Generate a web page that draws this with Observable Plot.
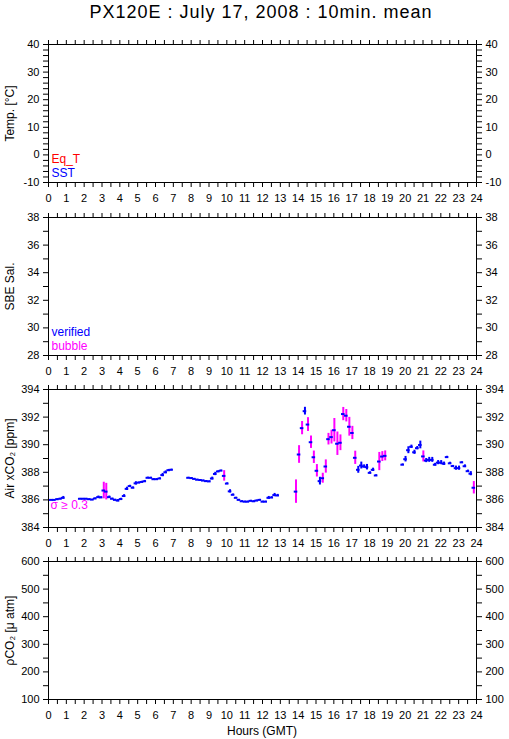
<!DOCTYPE html>
<html><head><meta charset="utf-8">
<script src="https://cdn.jsdelivr.net/npm/d3@7"></script>
<script src="https://cdn.jsdelivr.net/npm/@observablehq/plot@0.6"></script>
<style>
body{margin:0;background:#fff;font-family:"Liberation Sans",Arial,Helvetica,sans-serif;}
#root{position:relative;width:509px;height:739px;overflow:hidden;background:#fff;}
.abs{position:absolute;}
#title{top:3px;left:0;width:522px;text-align:center;font-size:18px;line-height:18px;letter-spacing:1px;color:#000;}
#xlab{top:725px;left:0;width:524px;text-align:center;font-size:12px;line-height:12px;color:#000;}
</style></head><body><div id="root">
<div id="title" class="abs">PX120E : July 17, 2008 : 10min. mean</div>
<div id="xlab" class="abs">Hours (GMT)</div>
</div>
<script>
// ---- tick labels ----
const hourLabels = [0,1,2,3,4,5,6,7,8,9,10,11,12,13,14,15,16,17,18,19,20,21,22,23,24];
const tempTicks = [-10,0,10,20,30,40];
const salTicks = [28,30,32,34,36,38];
const xco2Ticks = [384,386,388,390,392,394];
const pco2Ticks = [100,200,300,400,500,600];

// ---- panel titles & legends ----
const panelLabels = ["Temp. [°C]", "SBE Sal.", "Air xCO₂ [ppm]", "ρCO₂ [μ atm]"];
const tempLegend = ["Eq_T", "SST"];
const salLegend = ["verified", "bubble"];
const xco2Legend = ["σ ≥ 0.3"];
const sigmaLimit = 0.3;

// ---- Air xCO2 10-min means (hour GMT, ppm, std dev) ----
const hours = [
  0.00,0.17,0.33,0.50,0.67,0.83,
  1.78,1.95,2.12,2.29,2.46,2.62,2.80,2.95,3.10,3.24,3.41,3.58,3.74,3.90,4.07,4.24,4.40,4.57,4.74,4.90,5.07,5.24,5.40,5.57,5.74,5.90,6.07,6.24,6.40,6.57,6.74,6.90,
  7.85,8.02,8.18,8.35,8.52,8.68,8.85,9.02,9.18,9.35,9.52,9.68,9.85,10.02,10.18,10.35,10.52,10.68,10.85,11.02,11.18,11.35,11.52,11.68,11.85,12.02,12.18,12.35,12.52,12.68,12.85,
  13.88,14.05,14.22,14.38,14.55,14.72,14.88,15.05,15.22,15.38,15.55,15.70,15.87,16.03,16.20,16.37,16.53,16.70,16.87,17.04,17.20,17.37,17.54,17.70,17.86,18.03,18.20,18.37,18.55,18.72,18.88,
  19.86,20.02,20.18,20.35,20.52,20.68,20.85,21.02,21.18,21.35,21.52,21.68,21.85,22.02,22.18,22.35,22.52,22.68,22.85,23.02,23.18,23.35,23.52,23.68,23.85
];
const xco2 = [
  386.00,386.00,386.00,386.05,386.08,386.15,
  386.08,386.08,386.08,386.05,386.02,386.10,386.20,386.18,386.68,386.60,386.20,386.08,386.00,385.95,386.06,386.28,386.80,387.00,386.88,387.20,387.25,387.30,387.35,387.60,387.60,387.50,387.50,387.55,387.80,388.00,388.15,388.18,
  387.60,387.58,387.52,387.46,387.44,387.40,387.36,387.34,387.55,387.88,388.06,388.12,387.74,387.18,386.62,386.37,386.15,386.00,385.90,385.87,385.87,385.93,385.90,385.95,386.00,385.87,385.87,386.15,386.17,386.35,386.32,
  386.60,389.29,391.20,392.43,391.46,390.18,389.09,388.11,387.36,387.57,388.42,390.40,390.55,391.05,390.07,390.14,392.22,392.10,391.30,390.85,389.05,388.18,388.49,388.42,388.37,387.96,388.18,387.77,388.78,389.14,389.19,
  388.55,388.95,389.60,389.85,389.45,389.75,389.98,389.15,388.85,388.90,388.90,388.55,388.70,388.70,388.62,389.10,388.65,388.45,388.30,388.30,388.72,388.44,388.08,387.90,386.88
];
const sigma = [
  0.02,0.02,0.02,0.03,0.05,0.10,
  0.03,0.03,0.03,0.03,0.03,0.05,0.08,0.05,0.60,0.60,0.08,0.05,0.05,0.08,0.06,0.10,0.12,0.06,0.06,0.12,0.05,0.05,0.06,0.05,0.04,0.04,0.04,0.05,0.12,0.10,0.06,0.05,
  0.04,0.04,0.04,0.04,0.04,0.04,0.04,0.04,0.10,0.12,0.05,0.04,0.38,0.06,0.12,0.06,0.04,0.04,0.04,0.04,0.04,0.04,0.04,0.04,0.04,0.04,0.04,0.10,0.06,0.12,0.08,
  0.85,0.64,0.48,0.28,0.50,0.45,0.45,0.45,0.28,0.36,0.48,0.42,0.50,0.85,0.85,0.57,0.48,0.45,0.68,0.48,0.48,0.25,0.25,0.12,0.20,0.08,0.12,0.05,0.66,0.36,0.36,
  0.06,0.20,0.25,0.12,0.15,0.12,0.28,0.40,0.15,0.18,0.18,0.10,0.15,0.15,0.12,0.06,0.08,0.05,0.15,0.15,0.04,0.10,0.08,0.15,0.45
];

// ---- styles ----
const FONT = '"Liberation Sans", Arial, Helvetica, sans-serif';
const BLUE = "#0000ff", MAGENTA = "#ff00ff", RED = "#ff0000";
const W = 509, H = 138, mT = 10, mB = 26, mL = 48, mR = 33;
const halfHours = d3.range(0, 24.001, 0.5);
const halfTickWidth = 0.1; // hours, half-length of the horizontal mean marker

function legendMarks(items, colors, offsets, dx) {
  return items.map((t, i) => Plot.text([t], {
    text: d => d, frameAnchor: "bottom-left", textAnchor: "start", lineAnchor: "middle",
    dx: dx, dy: offsets[i], fill: colors[i], fontSize: 12
  }));
}

function panel(cfg) {
  return Plot.plot({
    width: W, height: H + mT + mB,
    marginTop: mT, marginBottom: mB, marginLeft: mL, marginRight: mR,
    style: {fontFamily: FONT, fontSize: "11px", color: "#000", background: "transparent", overflow: "visible"},
    x: {domain: [0, 24]},
    y: {domain: cfg.domain},
    color: {type: "identity"},
    marks: [
      ...(cfg.marks || []),
      Plot.frame({stroke: "#000"}),
      Plot.axisX({anchor: "top", ticks: halfHours, tickSize: 5, fill: "none", label: null}),
      Plot.axisX({anchor: "bottom", ticks: halfHours, tickSize: 5, fill: "none", label: null}),
      Plot.axisX({anchor: "bottom", ticks: hourLabels, tickSize: 0, tickPadding: 12, tickFormat: d => String(d), label: null}),
      Plot.axisY({anchor: "left", ticks: cfg.minor, tickSize: 5, fill: "none", label: null}),
      Plot.axisY({anchor: "right", ticks: cfg.minor, tickSize: 5, fill: "none", label: null}),
      Plot.axisY({anchor: "left", ticks: cfg.ticks, tickSize: 0, tickPadding: 9, tickFormat: d => String(d), label: null}),
      Plot.axisY({anchor: "right", ticks: cfg.ticks, tickSize: 0, tickPadding: 9, tickFormat: d => String(d), label: null}),
      Plot.text([cfg.label], {text: d => d, frameAnchor: "left", textAnchor: "middle", rotate: -90, lineAnchor: "top", dx: -43, fontSize: 12, fill: "#000"}),
      ...(cfg.legend || [])
    ]
  });
}

const rows = hours.map((h, i) => ({h, v: xco2[i], s: sigma[i]}));

const panels = [
  {top: 44, domain: [-10, 40], ticks: tempTicks, minor: d3.range(-10, 40.001, 2), label: panelLabels[0],
   legend: legendMarks(tempLegend, [RED, BLUE], [-23, -9.5], 3)},
  {top: 217, domain: [28, 38], ticks: salTicks, minor: d3.range(28, 38.001, 1), label: panelLabels[1],
   legend: legendMarks(salLegend, [BLUE, MAGENTA], [-23, -9.5], 3)},
  {top: 389, domain: [384, 394], ticks: xco2Ticks, minor: d3.range(384, 394.001, 1), label: panelLabels[2],
   legend: legendMarks(xco2Legend, [MAGENTA], [-22.5], 2),
   marks: [
     Plot.ruleX(rows, {x: "h", y1: d => d.v - d.s, y2: d => d.v + d.s,
       stroke: d => d.s >= sigmaLimit ? MAGENTA : BLUE, strokeWidth: 2, clip: true}),
     Plot.ruleY(rows, {y: "v", x1: d => d.h - halfTickWidth, x2: d => d.h + halfTickWidth, stroke: BLUE, strokeWidth: 2, clip: true})
   ]},
  {top: 561, domain: [100, 600], ticks: pco2Ticks, minor: d3.range(100, 600.001, 50), label: panelLabels[3]}
];

const root = document.getElementById("root");
for (const p of panels) {
  const div = document.createElement("div");
  div.className = "abs";
  div.style.left = "0px";
  div.style.top = (p.top - mT) + "px";
  div.appendChild(panel(p));
  root.appendChild(div);
}
</script></body></html>
